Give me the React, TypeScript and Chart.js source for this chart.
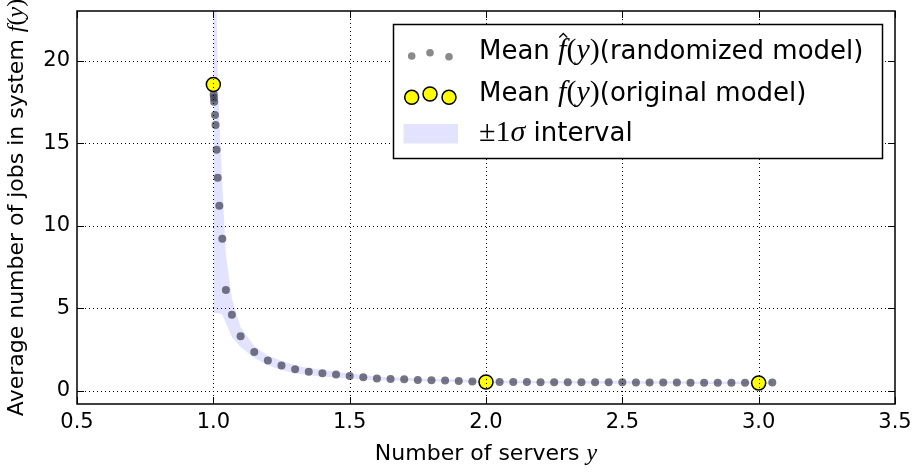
import React, { useEffect, useRef } from 'react';
import { Chart, registerables } from 'chart.js';

Chart.register(...registerables);

// ---- data ----
const randX = [
  1.001, 1.002, 1.003, 1.006, 1.008, 1.012, 1.016, 1.022, 1.033, 1.046, 1.068,
  1.1, 1.15, 1.2, 1.25, 1.3, 1.35, 1.4, 1.45, 1.5, 1.55, 1.6, 1.65, 1.7, 1.75,
  1.8, 1.85, 1.9, 1.95, 2.0, 2.05, 2.1, 2.15, 2.2, 2.25, 2.3, 2.35, 2.4, 2.45,
  2.5, 2.55, 2.6, 2.65, 2.7, 2.75, 2.8, 2.85, 2.9, 2.95, 3.0, 3.05,
];
const randMean = [
  17.95, 17.75, 17.5, 16.7, 16.1, 14.6, 12.9, 11.2, 9.2, 6.1, 4.6,
  3.3, 2.35, 1.83, 1.53, 1.3, 1.16, 1.06, 0.98, 0.9, 0.82, 0.74, 0.72, 0.7, 0.66,
  0.64, 0.62, 0.6, 0.57, 0.54, 0.53, 0.53, 0.53, 0.52, 0.52, 0.52, 0.52, 0.51, 0.51,
  0.51, 0.5, 0.5, 0.5, 0.5, 0.49, 0.49, 0.49, 0.49, 0.49, 0.48, 0.5,
];
const bandUpper = [
  40, 38, 36, 30, 27, 23, 19.5, 16.5, 12.5, 8.3, 5.6,
  3.85, 2.72, 2.12, 1.82, 1.55, 1.38, 1.26, 1.16, 1.06, 0.96, 0.86, 0.82, 0.79, 0.75,
  0.72, 0.7, 0.68, 0.65, 0.62, 0.61, 0.61, 0.61, 0.6, 0.6, 0.6, 0.6, 0.59, 0.59,
  0.59, 0.58, 0.58, 0.58, 0.58, 0.57, 0.57, 0.57, 0.57, 0.57, 0.56, 0.58,
];
const bandLower = [
  4.7, 4.7, 4.7, 4.7, 4.7, 4.7, 4.7, 4.7, 4.6, 4.1, 3.25,
  2.65, 1.98, 1.54, 1.26, 1.06, 0.94, 0.86, 0.8, 0.74, 0.68, 0.62, 0.62, 0.61, 0.58,
  0.56, 0.54, 0.52, 0.49, 0.46, 0.45, 0.45, 0.45, 0.44, 0.44, 0.44, 0.44, 0.43, 0.43,
  0.43, 0.42, 0.42, 0.42, 0.42, 0.41, 0.41, 0.41, 0.41, 0.41, 0.4, 0.42,
];
const origX = [1, 2, 3];
const origMean = [18.55, 0.53, 0.47];

const xTicks = [0.5, 1.0, 1.5, 2.0, 2.5, 3.0, 3.5];
const yTicks = [0, 5, 10, 15, 20];
const xMin = 0.5;
const xMax = 3.5;
const yMin = -0.8;
const yMax = 23;

const SANS = '"DejaVu Sans", sans-serif';
const MATH = '"Liberation Serif", "DejaVu Serif", serif';
const BAND = 'rgba(0,0,255,0.11)';
const DOT = 'rgba(60,60,80,0.7)';

type Seg = { t: string; font: string; hat?: boolean };

function segsWidth(ctx: CanvasRenderingContext2D, segs: Seg[]) {
  let w = 0;
  for (const s of segs) {
    ctx.font = s.font;
    w += ctx.measureText(s.t).width;
  }
  return w;
}

function drawSegs(ctx: CanvasRenderingContext2D, segs: Seg[], x: number, y: number, size: number) {
  let cx = x;
  ctx.textBaseline = 'alphabetic';
  ctx.textAlign = 'left';
  for (const s of segs) {
    ctx.font = s.font;
    const w = ctx.measureText(s.t).width;
    ctx.fillText(s.t, cx, y);
    if (s.hat) {
      const hx = cx + w * 0.62;
      const top = y - size * 0.98;
      ctx.save();
      ctx.lineWidth = 1.3;
      ctx.beginPath();
      ctx.moveTo(hx - 4, top + 4);
      ctx.lineTo(hx, top);
      ctx.lineTo(hx + 4, top + 4);
      ctx.stroke();
      ctx.restore();
    }
    cx += w;
  }
}

const decor = {
  id: 'decor',
  afterDatasetsDraw(chart: any) {
    const { ctx, chartArea: a } = chart;
    const xs = chart.scales.x;
    const ys = chart.scales.y;
    ctx.save();
    ctx.strokeStyle = '#000';
    ctx.fillStyle = '#000';

    // dotted grid
    ctx.lineWidth = 1;
    ctx.setLineDash([1, 3]);
    for (const v of xTicks) {
      const px = Math.round(xs.getPixelForValue(v)) + 0.5;
      if (px <= a.left + 1 || px >= a.right - 1) continue;
      ctx.beginPath();
      ctx.moveTo(px, a.top);
      ctx.lineTo(px, a.bottom);
      ctx.stroke();
    }
    for (const v of yTicks) {
      const py = Math.round(ys.getPixelForValue(v)) + 0.5;
      if (py <= a.top + 1 || py >= a.bottom - 1) continue;
      ctx.beginPath();
      ctx.moveTo(a.left, py);
      ctx.lineTo(a.right, py);
      ctx.stroke();
    }
    ctx.setLineDash([]);

    // inward tick marks on all four sides
    ctx.lineWidth = 1;
    for (const v of xTicks) {
      const px = Math.round(xs.getPixelForValue(v)) + 0.5;
      ctx.beginPath();
      ctx.moveTo(px, a.bottom);
      ctx.lineTo(px, a.bottom - 7);
      ctx.moveTo(px, a.top);
      ctx.lineTo(px, a.top + 7);
      ctx.stroke();
    }
    for (const v of yTicks) {
      const py = Math.round(ys.getPixelForValue(v)) + 0.5;
      ctx.beginPath();
      ctx.moveTo(a.left, py);
      ctx.lineTo(a.left + 7, py);
      ctx.moveTo(a.right, py);
      ctx.lineTo(a.right - 7, py);
      ctx.stroke();
    }

    // frame
    ctx.lineWidth = 1.5;
    ctx.strokeRect(a.left, a.top, a.right - a.left, a.bottom - a.top);

    // legend
    const lx = 393.5, ly = 24.5, lw = 489, lh = 134;
    ctx.fillStyle = '#fff';
    ctx.fillRect(lx, ly, lw, lh);
    ctx.lineWidth = 1.5;
    ctx.strokeStyle = '#000';
    ctx.strokeRect(lx, ly, lw, lh);

    const dotPos = [
      [411.7, 56],
      [430, 52.7],
      [449, 56.7],
    ];
    ctx.fillStyle = '#8a8a8a';
    for (const [dx, dy] of dotPos) {
      ctx.beginPath();
      ctx.arc(dx, dy, 3.8, 0, Math.PI * 2);
      ctx.fill();
    }
    const yelPos = [
      [411.7, 97.3],
      [430, 94],
      [449, 97.3],
    ];
    for (const [dx, dy] of yelPos) {
      ctx.beginPath();
      ctx.arc(dx, dy, 7, 0, Math.PI * 2);
      ctx.fillStyle = '#ffff00';
      ctx.fill();
      ctx.lineWidth = 1.5;
      ctx.strokeStyle = '#000';
      ctx.stroke();
    }
    ctx.fillStyle = BAND;
    ctx.fillRect(403.5, 124, 54.5, 19.5);

    ctx.fillStyle = '#000';
    ctx.strokeStyle = '#000';
    const LS = 26;
    const lf = `${LS}px ${SANS}`;
    const mi = `italic ${LS + 4}px ${MATH}`;
    const mu = `${LS + 4}px ${MATH}`;
    drawSegs(ctx, [
      { t: 'Mean ', font: lf },
      { t: 'f', font: mi, hat: true },
      { t: '(', font: mu },
      { t: 'y', font: mi },
      { t: ')', font: mu },
      { t: '(randomized model)', font: lf },
    ], 479, 59, LS);
    drawSegs(ctx, [
      { t: 'Mean ', font: lf },
      { t: 'f', font: mi },
      { t: '(', font: mu },
      { t: 'y', font: mi },
      { t: ')', font: mu },
      { t: '(original model)', font: lf },
    ], 479, 100.5, LS);
    drawSegs(ctx, [
      { t: '±1', font: mu },
      { t: 'σ', font: mi },
      { t: ' interval', font: lf },
    ], 479, 141, LS);

    // axis titles
    const TS = 22;
    const tf = `${TS}px ${SANS}`;
    const ti = `italic ${TS + 2}px ${MATH}`;
    const tu = `${TS + 2}px ${MATH}`;
    const xt: Seg[] = [
      { t: 'Number of servers ', font: tf },
      { t: 'y', font: ti },
    ];
    const xw = segsWidth(ctx, xt);
    drawSegs(ctx, xt, (a.left + a.right) / 2 - xw / 2, 460, TS);

    const yt: Seg[] = [
      { t: 'Average number of jobs in system ', font: tf },
      { t: 'f', font: ti },
      { t: '(', font: tu },
      { t: 'y', font: ti },
      { t: ')', font: tu },
    ];
    const yw = segsWidth(ctx, yt);
    ctx.save();
    ctx.translate(23, (a.top + a.bottom) / 2);
    ctx.rotate(-Math.PI / 2);
    drawSegs(ctx, yt, -yw / 2, 0, TS);
    ctx.restore();

    ctx.restore();
  },
};

export default function App() {
  const ref = useRef<HTMLCanvasElement>(null);

  useEffect(() => {
    document.body.style.margin = '0';
    const canvas = ref.current;
    if (!canvas) return;
    const chart = new Chart(canvas, {
      type: 'scatter',
      data: {
        datasets: [
          {
            type: 'scatter',
            label: 'Mean f(y) (original model)',
            data: origX.map((x, i) => ({ x, y: origMean[i] })),
            pointRadius: 7,
            pointBackgroundColor: '#ffff00',
            pointBorderColor: '#000',
            pointBorderWidth: 1.5,
            order: 0,
          },
          {
            type: 'scatter',
            label: 'Mean f^(y) (randomized model)',
            data: randX.map((x, i) => ({ x, y: randMean[i] })),
            pointRadius: 4,
            pointBackgroundColor: DOT,
            pointBorderColor: 'rgba(0,0,0,0)',
            pointBorderWidth: 0,
            order: 1,
          },
          {
            type: 'line',
            label: 'upper',
            data: randX.map((x, i) => ({ x, y: bandUpper[i] })),
            borderColor: 'rgba(0,0,0,0)',
            borderWidth: 0,
            pointRadius: 0,
            backgroundColor: BAND,
            fill: '+1',
            tension: 0,
            order: 2,
          },
          {
            type: 'line',
            label: 'lower',
            data: randX.map((x, i) => ({ x, y: bandLower[i] })),
            borderColor: 'rgba(0,0,0,0)',
            borderWidth: 0,
            pointRadius: 0,
            fill: false,
            tension: 0,
            order: 3,
          },
        ] as any,
      },
      options: {
        responsive: false,
        animation: false,
        devicePixelRatio: 1,
        events: [],
        layout: { padding: { top: 11, right: 21, left: 0, bottom: 0 } },
        plugins: {
          legend: { display: false },
          tooltip: { enabled: false },
        },
        scales: {
          x: {
            type: 'linear',
            min: xMin,
            max: xMax,
            grid: { display: false, drawTicks: false },
            border: { display: false },
            afterBuildTicks: (s: any) => {
              s.ticks = xTicks.map((v) => ({ value: v }));
            },
            afterFit: (s: any) => {
              s.height = 69;
              s.paddingLeft = 0;
              s.paddingRight = 0;
            },
            ticks: {
              color: '#000',
              font: { family: SANS, size: 21 },
              padding: 6,
              maxRotation: 0,
              autoSkip: false,
              callback: (v: any) => Number(v).toFixed(1),
            },
          },
          y: {
            type: 'linear',
            min: yMin,
            max: yMax,
            grid: { display: false, drawTicks: false },
            border: { display: false },
            afterBuildTicks: (s: any) => {
              s.ticks = yTicks.map((v) => ({ value: v }));
            },
            afterFit: (s: any) => {
              s.width = 77;
              s.paddingTop = 0;
              s.paddingBottom = 0;
            },
            ticks: {
              color: '#000',
              font: { family: SANS, size: 21 },
              padding: 7,
              autoSkip: false,
              callback: (v: any) => String(v),
            },
          },
        },
      } as any,
      plugins: [decor],
    });
    return () => chart.destroy();
  }, []);

  return (
    <div style={{ width: 916, height: 473, background: '#fff' }}>
      <canvas ref={ref} width={916} height={473} style={{ display: 'block' }} />
    </div>
  );
}
